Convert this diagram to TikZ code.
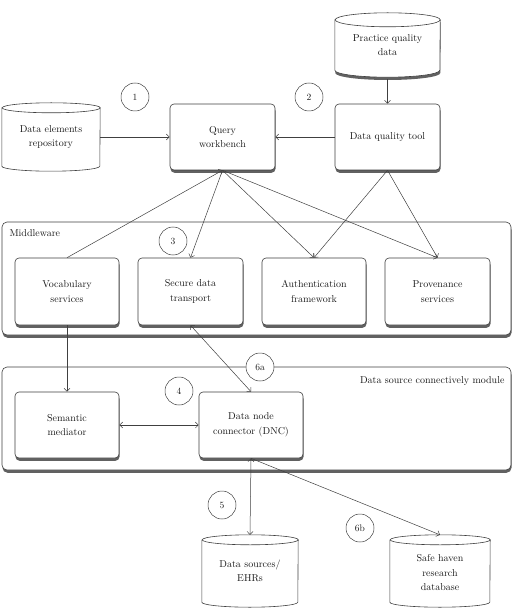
\documentclass[tikz,border=0pt]{standalone}
\usetikzlibrary{arrows.meta,shadows,calc}
\tikzset{
  base/.style={font=\fontsize{10}{14.5}\selectfont, align=center, text=black!90},
  shade3/.style={drop shadow={shadow xshift=0.5pt, shadow yshift=-2.8pt, fill=black!62, opacity=1}},
  box/.style={base, draw=black!75, line width=0.6pt, rounded corners=4pt, fill=white, shade3, inner sep=2pt},
  group/.style={draw=black!75, line width=0.6pt, rounded corners=5pt, fill=white, shade3, inner sep=0pt},
  cylbox/.style={base, inner sep=0pt},
  cylline/.style={draw=black!75, line width=0.6pt, fill=white},
  num/.style={circle, draw=black!75, line width=0.5pt, minimum size=28pt, inner sep=0pt, fill=white, font=\fontsize{9.5}{10}\selectfont, text=black!90},
  conn/.style={line width=0.5pt, draw=black!75},
  arr/.style={conn, -{Straight Barb[length=3pt,width=6pt]}},
  rarr/.style={conn, {Straight Barb[length=3pt,width=6pt]}-},
  darr/.style={conn, {Straight Barb[length=3pt,width=6pt]}-{Straight Barb[length=3pt,width=6pt]}},
}
% cylinder outline around a rectangular node: #1 options, #2 name, #3 half width, #4 ellipse y radius
\newcommand\cylout[4]{%
  \path[cylline,#1] ([yshift=-#4]#2.north west) -- ([yshift=#4]#2.south west)
    arc[start angle=180, end angle=360, x radius=#3, y radius=#4]
    -- ([yshift=-#4]#2.north east)
    arc[start angle=0, end angle=180, x radius=#3, y radius=#4] -- cycle;
  \draw[cylline, fill=none] ([yshift=-#4]#2.north east)
    arc[start angle=0, end angle=-180, x radius=#3, y radius=#4];
}
\begin{document}
\begin{tikzpicture}[x=1pt,y=1pt]
\useasboundingbox (0,0) rectangle (515,-609);

% group containers
\node[group, minimum width=509pt, minimum height=113pt] (mw) at (256.5,-278.5) {};
\node[base, anchor=west] (mwlabel) at (6,-233) {Middleware};
\node[group, minimum width=509pt, minimum height=103pt] (dsm) at (256.5,-418.5) {};
\node[base, anchor=east] (dsmlabel) at (508,-381) {Data source connectively module};

% cylinders (text nodes + outlines)
\node[cylbox, minimum width=105pt, minimum height=64pt] (pqd) at (387.5,-45) {};
\cylout{shade3}{pqd}{52.5pt}{7pt}
\node[base] at (pqd.center) {Practice quality\\data};

\node[cylbox, minimum width=98pt, minimum height=68pt] (der) at (51,-137) {};
\cylout{}{der}{49pt}{5pt}
\node[base] at (der.center) {Data elements\\repository};

\node[cylbox, minimum width=96pt, minimum height=72pt] (ds) at (250,-571) {};
\cylout{}{ds}{48pt}{5pt}
\node[base] at (ds.center) {Data sources/\\EHRs};

\node[cylbox, minimum width=100pt, minimum height=72pt] (sh) at (440,-571) {};
\cylout{}{sh}{50pt}{5pt}
\node[base] at ([yshift=-2pt]sh.center) {Safe haven\\research\\database};

% boxes
\node[box, minimum width=105pt, minimum height=66pt] (qw) at (222.5,-137) {Query\\workbench};
\node[box, minimum width=105pt, minimum height=66pt] (dqt) at (387.5,-137) {Data quality tool};
\node[box, minimum width=104pt, minimum height=67pt] (voc) at (67,-291.5) {Vocabulary\\services};
\node[box, minimum width=105pt, minimum height=67pt] (sdt) at (190.5,-291.5) {Secure data\\transport};
\node[box, minimum width=104pt, minimum height=67pt] (auth) at (314,-291.5) {Authentication\\framework};
\node[box, minimum width=105pt, minimum height=67pt] (prov) at (437.5,-291.5) {Provenance\\services};
\node[box, minimum width=104pt, minimum height=66pt] (sm) at (67,-425) {Semantic\\mediator};
\node[box, minimum width=104pt, minimum height=66pt] (dnc) at (251,-425) {Data node\\connector (DNC)};

% numbered circles
\node[num] (n1) at (135,-97) {1};
\node[num] (n2) at (309,-97) {2};
\node[num] (n3) at (173,-241) {3};
\node[num] (n4) at (179,-391) {4};
\node[num] (n6a) at (260,-367) {6a};
\node[num] (n5) at (222,-505) {5};
\node[num] (n6b) at (360,-528) {6b};

% connectors
\coordinate (pqdb) at ([yshift=-2pt]pqd.south);
\draw[arr] (pqdb) -- (dqt.north);
\draw[arr] (der.east) -- (qw.west);
\draw[arr] (dqt.west) -- (qw.east);
\draw[rarr] (qw.south) -- (voc.north);
\draw[arr] (qw.south) -- (sdt.north);
\draw[arr] (qw.south) -- (auth.north);
\draw[arr] (qw.south) -- (prov.north);
\draw[arr] (dqt.south) -- (auth.north);
\draw[arr] (dqt.south) -- (prov.north);
\draw[arr] (voc.south) -- (sm.north);
\draw[darr] (sdt.south) -- (dnc.north);
\draw[darr] (sm.east) -- (dnc.west);
\draw[darr] (dnc.south) -- (ds.north);
\draw[arr] (dnc.south) -- (sh.north);
\end{tikzpicture}
\end{document}
